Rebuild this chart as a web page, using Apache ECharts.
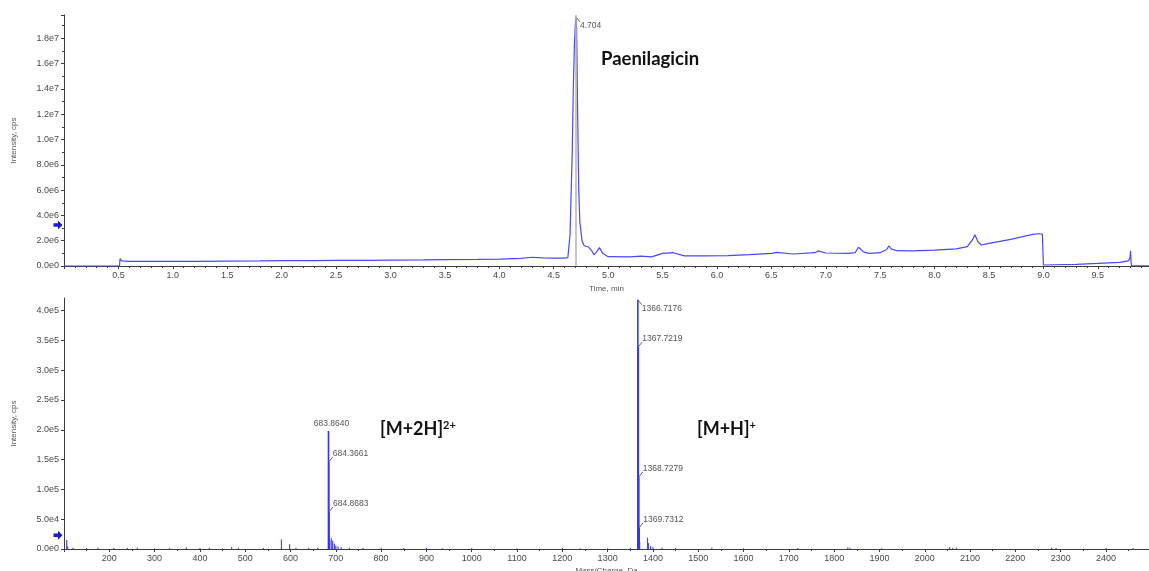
<!DOCTYPE html>
<html>
<head>
<meta charset="utf-8">
<script src="https://cdn.jsdelivr.net/npm/echarts@6/dist/echarts.min.js"></script>
<style>
  html, body { margin: 0; padding: 0; background: #ffffff; }
  #chart { width: 1149px; height: 571px; }
</style>
</head>
<body>
<div id="chart"></div>
<script>
// ---- Total ion chromatogram (time in min, intensity in cps) ----
const ticTime = [
  0, 0.51, 0.515, 0.53, 0.6, 0.8, 1.0, 1.2, 1.5, 1.8, 2.0, 2.3, 2.5, 2.8, 3.0, 3.3, 3.5, 3.8,
  4.0, 4.2, 4.3, 4.4, 4.5, 4.6, 4.63, 4.65, 4.67, 4.68, 4.69, 4.70, 4.704, 4.71, 4.72, 4.73,
  4.74, 4.76, 4.78, 4.82, 4.85, 4.87, 4.9, 4.92, 4.95, 5.0, 5.2, 5.3, 5.4, 5.5, 5.6, 5.7, 5.9, 6.1,
  6.3, 6.5, 6.55, 6.7, 6.9, 6.93, 7.0, 7.2, 7.27, 7.3, 7.35, 7.4, 7.5, 7.56, 7.58, 7.6, 7.65,
  7.8, 8.0, 8.2, 8.3, 8.35, 8.37, 8.4, 8.43, 8.5, 8.6, 8.7, 8.8, 8.9, 8.95, 8.99, 9.0, 9.1,
  9.3, 9.5, 9.6, 9.7, 9.78, 9.795, 9.8, 9.805, 9.81, 9.97
];
const ticIntensity = [
  0, 0, 0.58e6, 0.40e6, 0.37e6, 0.36e6, 0.37e6, 0.37e6, 0.38e6, 0.40e6, 0.42e6, 0.43e6, 0.45e6, 0.45e6, 0.47e6, 0.48e6, 0.50e6, 0.52e6,
  0.55e6, 0.60e6, 0.69e6, 0.64e6, 0.63e6, 0.62e6, 0.66e6, 2.5e6, 9.0e6, 14.0e6, 17.5e6, 19.3e6, 19.7e6, 19.0e6, 12.0e6, 6.0e6,
  3.5e6, 2.0e6, 1.6e6, 1.5e6, 1.2e6, 0.87e6, 1.2e6, 1.45e6, 1.0e6, 0.74e6, 0.72e6, 0.78e6, 0.72e6, 1.0e6, 1.05e6, 0.8e6, 0.8e6, 0.82e6,
  0.9e6, 1.0e6, 1.08e6, 0.95e6, 1.05e6, 1.19e6, 1.03e6, 1.0e6, 1.05e6, 1.48e6, 1.1e6, 1.0e6, 1.05e6, 1.3e6, 1.6e6, 1.35e6, 1.21e6,
  1.2e6, 1.26e6, 1.35e6, 1.53e6, 2.1e6, 2.48e6, 1.9e6, 1.66e6, 1.79e6, 1.95e6, 2.11e6, 2.3e6, 2.5e6, 2.55e6, 2.53e6, 0.08e6, 0.1e6,
  0.13e6, 0.2e6, 0.24e6, 0.28e6, 0.4e6, 0.6e6, 1.21e6, 0.3e6, 0.02e6, 0.02e6
];
const ticApexTime = 4.704;
const ticApexIntensity = 19.7e6;
const ticArrowLevel = 3.24e6;

// ---- Mass spectrum: labelled isotope peaks (m/z, intensity) ----
const labelledMz = [683.8640, 684.3661, 684.8683, 1366.7176, 1367.7219, 1368.7279, 1369.7312];
const labelledIntensity = [1.98e5, 1.46e5, 0.62e5, 4.18e5, 3.39e5, 1.21e5, 0.36e5];
const labelPlacement = ['above', 'up', 'up', 'down', 'up', 'up', 'up'];

// ---- Mass spectrum: minor peaks ----
const minorMz = [
  106, 108, 120, 150, 175, 210, 240, 262, 300, 333, 370, 400, 421, 450, 470, 485, 540, 580, 598,
  612, 640, 660, 685.4, 686.4, 690, 693, 697, 700, 705, 712, 730, 760, 800, 850, 900, 935, 1000,
  1100, 1200, 1240, 1300, 1350, 1370.7, 1388, 1390, 1395, 1400, 1420, 1450, 1530, 1600, 1720,
  1830, 1835, 1905, 2055, 2062, 2070, 2280, 2290, 2400, 2460
];
const minorIntensity = [
  1.5e4, 4e3, 2e3, 1.5e3, 2e3, 1.5e3, 1.8e3, 2e3, 1.2e3, 1.5e3, 2.5e3, 1.5e3, 2e3, 1.2e3, 3e3, 2e3, 1.5e3, 1.6e4, 8e3,
  2e3, 1.5e3, 2e3, 2.1e4, 1.5e4, 1.8e4, 1.4e4, 9e3, 6e3, 4e3, 3e3, 2e3, 1.5e3, 2e3, 1.5e3, 2e3, 1.2e3, 1.5e3,
  1.2e3, 1.5e3, 1e3, 1.2e3, 2e3, 1.2e4, 1.9e4, 1e4, 5e3, 3e3, 2e3, 1.5e3, 2e3, 1.2e3, 1.5e3,
  2.5e3, 2e3, 1.2e3, 3e3, 2e3, 2e3, 2e3, 1.5e3, 1.5e3, 1.2e3
];
const msArrowLevel = 2.3e4;

// ---- Axis ranges ----
const ticTimeRange = [0, 9.97];
const ticIntensityRange = [0, 1.985e7];
const mzRange = [100, 2495];
const msIntensityRange = [0, 4.21e5];

const BLUE = '#4848ff';
const AXIS = '#3c3c3c';
const LABEL_FONT = 'Liberation Sans';
const expLabel = v => v.toExponential(1).replace('+', '');
const arrowPath = 'path://M0,3 L5,3 L5,0 L10,5 L5,10 L5,7 L0,7 Z';

function axisBase() {
  return {
    axisLine: { show: true, onZero: false, lineStyle: { color: AXIS, width: 1 } },
    axisTick: { show: true, length: 3, lineStyle: { color: AXIS } },
    minorTick: { show: true, length: 2, lineStyle: { color: AXIS } },
    splitLine: { show: false },
    minorSplitLine: { show: false },
    axisLabel: { fontSize: 9, color: '#4a4a4a', fontFamily: LABEL_FONT, margin: 5 },
    nameTextStyle: { fontSize: 8, color: '#555', fontFamily: LABEL_FONT }
  };
}

// Draws a peak annotation: short leader plus value text.
function peakLabel(p, text, mode) {
  const font = '8.5px ' + LABEL_FONT;
  if (mode === 'above') {
    return {
      type: 'text',
      style: { text, x: p[0] + 3, y: p[1] - 3, align: 'center', verticalAlign: 'bottom', font, fill: '#555' }
    };
  }
  const dy = mode === 'down' ? 5 : -5;
  return {
    type: 'group',
    children: [
      { type: 'line', shape: { x1: p[0], y1: p[1], x2: p[0] + 4, y2: p[1] + dy }, style: { stroke: '#666', lineWidth: 1 } },
      { type: 'text', style: { text, x: p[0] + 4, y: p[1] + dy + (mode === 'down' ? 4 : -3), align: 'left', verticalAlign: 'middle', font, fill: '#555' } }
    ]
  };
}

const chart = echarts.init(document.getElementById('chart'));

chart.setOption({
  backgroundColor: '#ffffff',
  animation: false,
  grid: [
    { left: 64, right: 0, top: 15, height: 251, containLabel: false, outerBoundsMode: 'none' },
    { left: 64, right: 0, top: 298, height: 251, containLabel: false, outerBoundsMode: 'none' }
  ],
  xAxis: [
    Object.assign(axisBase(), {
      type: 'value', gridIndex: 0, min: ticTimeRange[0], max: ticTimeRange[1], interval: 0.5,
      name: 'Time, min', nameLocation: 'middle', nameGap: 19,
      minorTick: { show: true, splitNumber: 5, length: 2, lineStyle: { color: AXIS } },
      axisLabel: { fontSize: 9, color: '#4a4a4a', fontFamily: LABEL_FONT, margin: 5,
        showMinLabel: false, showMaxLabel: false, formatter: v => v.toFixed(1) }
    }),
    Object.assign(axisBase(), {
      type: 'value', gridIndex: 1, min: mzRange[0], max: mzRange[1], interval: 100,
      name: 'Mass/Charge, Da', nameLocation: 'middle', nameGap: 18,
      minorTick: { show: true, splitNumber: 2, length: 2, lineStyle: { color: AXIS } },
      axisLabel: { fontSize: 9, color: '#4a4a4a', fontFamily: LABEL_FONT, margin: 5,
        showMinLabel: false, showMaxLabel: false, formatter: v => String(v) }
    })
  ],
  yAxis: [
    Object.assign(axisBase(), {
      type: 'value', gridIndex: 0, min: ticIntensityRange[0], max: ticIntensityRange[1], interval: 2e6,
      name: 'Intensity, cps', nameLocation: 'middle', nameGap: 46,
      minorTick: { show: true, splitNumber: 2, length: 2, lineStyle: { color: AXIS } },
      axisLabel: { fontSize: 9, color: '#4a4a4a', fontFamily: LABEL_FONT, margin: 5,
        showMaxLabel: false, formatter: expLabel }
    }),
    Object.assign(axisBase(), {
      type: 'value', gridIndex: 1, min: msIntensityRange[0], max: msIntensityRange[1], interval: 5e4,
      name: 'Intensity, cps', nameLocation: 'middle', nameGap: 46,
      minorTick: { show: false },
      axisLabel: { fontSize: 9, color: '#4a4a4a', fontFamily: LABEL_FONT, margin: 5,
        showMaxLabel: false, formatter: expLabel }
    })
  ],
  series: [
    {
      name: 'TIC',
      type: 'line',
      xAxisIndex: 0, yAxisIndex: 0,
      data: ticTime.map((t, i) => [t, ticIntensity[i]]),
      showSymbol: false,
      lineStyle: { color: BLUE, width: 1.2 },
      z: 3,
      markLine: {
        silent: true, symbol: 'none', label: { show: false },
        lineStyle: { color: '#b4b4b4', width: 1.5, type: 'solid' },
        data: [{ xAxis: ticApexTime }]
      },
      markPoint: {
        silent: true, symbol: arrowPath, symbolSize: [9, 9], symbolOffset: [-6, 0],
        itemStyle: { color: '#1a1ad0' }, label: { show: false },
        data: [{ coord: [ticTimeRange[0], ticArrowLevel] }]
      }
    },
    {
      name: 'TIC apex',
      type: 'custom',
      xAxisIndex: 0, yAxisIndex: 0,
      data: [[ticApexTime, ticApexIntensity]],
      clip: false,
      z: 4,
      renderItem: (params, api) =>
        peakLabel(api.coord([api.value(0), api.value(1)]), ticApexTime.toFixed(3), 'down')
    },
    {
      name: 'Spectrum minor',
      type: 'custom',
      xAxisIndex: 1, yAxisIndex: 1,
      data: minorMz.map((m, i) => [m, minorIntensity[i]]),
      z: 3,
      renderItem: (params, api) => {
        const top = api.coord([api.value(0), api.value(1)]);
        const base = api.coord([api.value(0), 0]);
        return { type: 'line', shape: { x1: top[0], y1: top[1], x2: base[0], y2: base[1] },
          style: { stroke: BLUE, lineWidth: 1.2 } };
      },
      markPoint: {
        silent: true, symbol: arrowPath, symbolSize: [9, 9], symbolOffset: [-6, 0],
        itemStyle: { color: '#1a1ad0' }, label: { show: false },
        data: [{ coord: [mzRange[0], msArrowLevel] }]
      }
    },
    {
      name: 'Spectrum peaks',
      type: 'custom',
      xAxisIndex: 1, yAxisIndex: 1,
      data: labelledMz.map((m, i) => [m, labelledIntensity[i]]),
      z: 4,
      renderItem: (params, api) => {
        const top = api.coord([api.value(0), api.value(1)]);
        const base = api.coord([api.value(0), 0]);
        return { type: 'line', shape: { x1: top[0], y1: top[1], x2: base[0], y2: base[1] },
          style: { stroke: '#3434f5', lineWidth: 1.6 } };
      }
    },
    {
      name: 'Spectrum labels',
      type: 'custom',
      xAxisIndex: 1, yAxisIndex: 1,
      data: labelledMz.map((m, i) => [m, labelledIntensity[i]]),
      clip: false,
      z: 5,
      renderItem: (params, api) => {
        const i = params.dataIndex;
        return peakLabel(api.coord([api.value(0), api.value(1)]), labelledMz[i].toFixed(4), labelPlacement[i]);
      }
    }
  ],
  graphic: [
    {
      type: 'text', left: 601, top: 50, z: 10,
      style: { text: 'Paenilagicin', font: 'bold 18.5px Lato', fill: '#111' }
    },
    {
      type: 'text', left: 380, top: 420, z: 10,
      style: {
        text: '{m|[M+2H]}{s|2+}',
        rich: {
          m: { font: 'bold 18px Lato', fill: '#111', verticalAlign: 'bottom' },
          s: { font: 'bold 11px Lato', fill: '#111', verticalAlign: 'top' }
        }
      }
    },
    {
      type: 'text', left: 697, top: 420, z: 10,
      style: {
        text: '{m|[M+H]}{s|+}',
        rich: {
          m: { font: 'bold 18px Lato', fill: '#111', verticalAlign: 'bottom' },
          s: { font: 'bold 11px Lato', fill: '#111', verticalAlign: 'top' }
        }
      }
    }
  ]
});
</script>
</body>
</html>
